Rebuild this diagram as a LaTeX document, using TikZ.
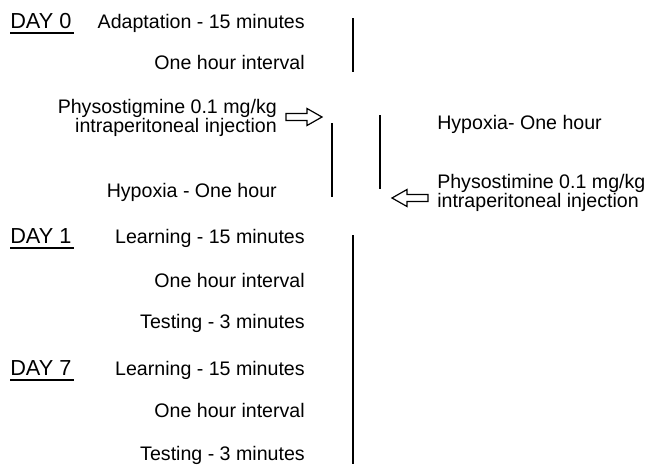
\documentclass[tikz,border=0pt]{standalone}
\usepackage{fontspec}
\setmainfont{Liberation Sans}
\usepackage{tikz}

\tikzset{
  hollowarrow/.pic={
    \draw[line width=0.9pt] (0,-3.5) -- (21,-3.5) -- (21,-8.5) -- (36,0)
      -- (21,8.5) -- (21,3.5) -- (0,3.5) -- cycle;
  }
}

\begin{document}
\begin{tikzpicture}[x=0.75pt, y=-0.75pt,
    every node/.style={inner sep=0pt, font=\fontsize{14.7pt}{13.9pt}\selectfont},
    day/.style={anchor=base west, font=\fontsize{16.3pt}{16pt}\selectfont},
    bar/.style={line width=2pt},
    uline/.style={line width=1.4pt}]
    \useasboundingbox (0,0) rectangle (649,464);

    % Day 0
    \node[day] (day0) at (10,28) {DAY 0};
    \draw[uline] ([yshift=-3.8pt]day0.base west) -- ([xshift=1.5pt,yshift=-3.8pt]day0.base east);
    \node[anchor=base east] (adapt) at (305,28) {Adaptation - 15 minutes};
    \node[anchor=base east] (int0) at (305,69) {One hour interval};
    \draw[bar] (353,18) -- (353,72);

    % left branch
    \node[anchor=base east, align=right] (physoA) at (277,132)
        {Physostigmine 0.1 mg/kg\\intraperitoneal injection};
    \pic at (286,117) {hollowarrow};
    \draw[bar] (332,123) -- (332,197);
    \node[anchor=base east] (hypA) at (277,197) {Hypoxia - One hour};

    % right branch
    \draw[bar] (380,115) -- (380,189);
    \node[anchor=base west] (hypB) at (437,129) {Hypoxia- One hour};
    \node[anchor=base west, align=left] (physoB) at (437,207)
        {Physostimine 0.1 mg/kg\\intraperitoneal injection};
    \pic[xscale=-1] at (428,198) {hollowarrow};

    % Day 1
    \node[day] (day1) at (10,243) {DAY 1};
    \draw[uline] ([yshift=-3.8pt]day1.base west) -- ([xshift=1.5pt,yshift=-3.8pt]day1.base east);
    \node[anchor=base east] (learn1) at (305,243) {Learning - 15 minutes};
    \node[anchor=base east] (int1) at (305,287) {One hour interval};
    \node[anchor=base east] (test1) at (305,328) {Testing - 3 minutes};

    % Day 7
    \node[day] (day7) at (10,375) {DAY 7};
    \draw[uline] ([yshift=-3.8pt]day7.base west) -- ([xshift=1.5pt,yshift=-3.8pt]day7.base east);
    \node[anchor=base east] (learn7) at (305,375) {Learning - 15 minutes};
    \node[anchor=base east] (int7) at (305,417) {One hour interval};
    \node[anchor=base east] (test7) at (305,460) {Testing - 3 minutes};
    \draw[bar] (353,235) -- (353,464);
\end{tikzpicture}
\end{document}
